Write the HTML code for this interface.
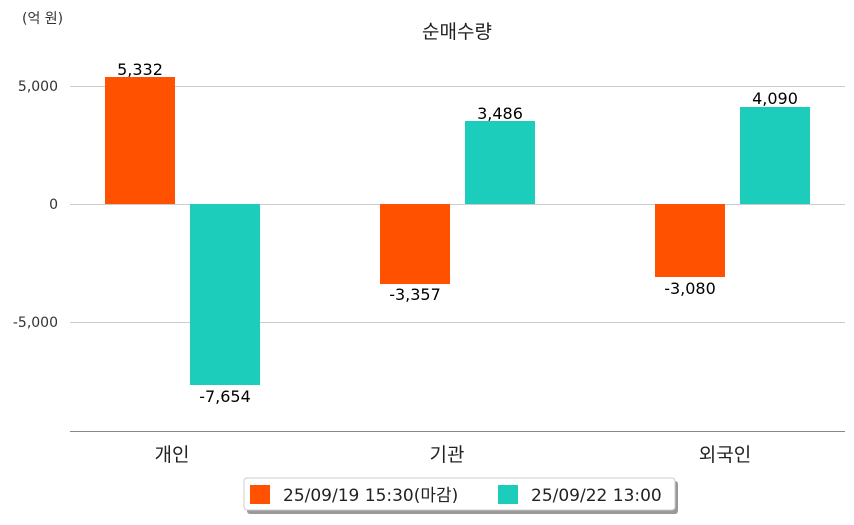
<!DOCTYPE html>
<html><head><meta charset="utf-8"><style>
body{margin:0;background:#fff;}
svg text{font-family:"DejaVu Sans","Noto Sans CJK KR",sans-serif;}
</style></head><body>
<svg width="854" height="520" viewBox="0 0 854 520" xmlns="http://www.w3.org/2000/svg">
<rect width="854" height="520" fill="#fff"/>
<text x="22" y="23" font-size="14" fill="#333">(억 원)</text>
<text x="457" y="38" font-size="19" fill="#222" text-anchor="middle">순매수량</text>
<g stroke="#ccc" stroke-width="1">
<line x1="70" y1="86.5" x2="845" y2="86.5"/>
<line x1="70" y1="204.5" x2="845" y2="204.5"/>
<line x1="70" y1="322.5" x2="845" y2="322.5"/>
</g>
<line x1="70" y1="431.5" x2="845" y2="431.5" stroke="#888" stroke-width="1"/>
<g font-size="14" fill="#333" text-anchor="end">
<text x="58" y="91">5,000</text>
<text x="58" y="209">0</text>
<text x="58" y="327">-5,000</text>
</g>
<g fill="#ff5100">
<rect x="105" y="77" width="70" height="127"/>
<rect x="380" y="204" width="70" height="80"/>
<rect x="655" y="204" width="70" height="73"/>
</g>
<g fill="#1ccdbb">
<rect x="190" y="204" width="70" height="181"/>
<rect x="465" y="121" width="70" height="83"/>
<rect x="740" y="107" width="70" height="97"/>
</g>
<g font-size="16" fill="#000" text-anchor="middle">
<text x="140" y="75">5,332</text>
<text x="225" y="402">-7,654</text>
<text x="415" y="300">-3,357</text>
<text x="500" y="119">3,486</text>
<text x="690" y="294">-3,080</text>
<text x="775" y="104">4,090</text>
</g>
<g font-size="19" fill="#222" text-anchor="middle">
<text x="172" y="461">개인</text>
<text x="447" y="461">기관</text>
<text x="725" y="461">외국인</text>
</g>
<rect x="247" y="481" width="431" height="33" rx="3" fill="#999"/>
<rect x="244" y="478" width="431" height="32" rx="3" fill="#fff" stroke="#ccc"/>
<rect x="250" y="485" width="20" height="19" fill="#ff5100"/>
<text x="283" y="501" font-size="17" fill="#222">25/09/19 15:30(마감)</text>
<rect x="498" y="485" width="20" height="19" fill="#1ccdbb"/>
<text x="531" y="501" font-size="17" fill="#222">25/09/22 13:00</text>
</svg>
</body></html>
